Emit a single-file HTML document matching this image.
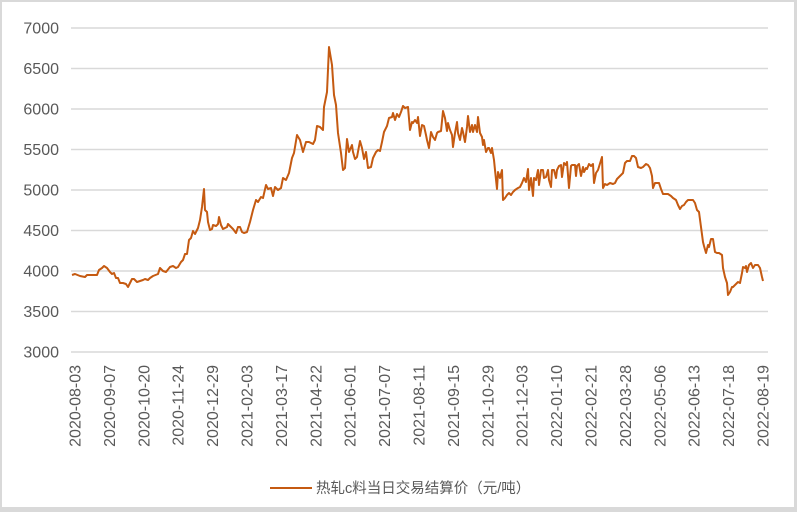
<!DOCTYPE html>
<html><head><meta charset="utf-8"><style>
html,body{margin:0;padding:0;background:#d9d9d9;}
#c{position:absolute;left:0;top:0;width:797px;height:512px;overflow:hidden;}
</style></head><body><div id="c">
<svg width="797" height="512" viewBox="0 0 797 512" xmlns="http://www.w3.org/2000/svg">
<rect x="0" y="0" width="797" height="512" fill="#d9d9d9"/>
<rect x="2" y="2" width="792" height="505" fill="#ffffff"/>
<g stroke="#d9d9d9" stroke-width="1.5">
<line x1="71" x2="768" y1="28" y2="28"/>
<line x1="71" x2="768" y1="68.5" y2="68.5"/>
<line x1="71" x2="768" y1="109" y2="109"/>
<line x1="71" x2="768" y1="149.5" y2="149.5"/>
<line x1="71" x2="768" y1="190" y2="190"/>
<line x1="71" x2="768" y1="230.5" y2="230.5"/>
<line x1="71" x2="768" y1="271" y2="271"/>
<line x1="71" x2="768" y1="311.5" y2="311.5"/>
<line x1="71" x2="768" y1="352" y2="352"/>
</g>
<g font-family="Liberation Sans, sans-serif" font-size="16" fill="#595959" text-anchor="end">
<text x="59" y="33.5">7000</text>
<text x="59" y="74">6500</text>
<text x="59" y="114.5">6000</text>
<text x="59" y="155">5500</text>
<text x="59" y="195.5">5000</text>
<text x="59" y="236">4500</text>
<text x="59" y="276.5">4000</text>
<text x="59" y="317">3500</text>
<text x="59" y="357.5">3000</text>
</g>
<g font-family="Liberation Sans, sans-serif" font-size="16" fill="#595959" text-anchor="end">
<text transform="translate(80.5,365) rotate(-90)">2020-08-03</text>
<text transform="translate(114.9,365) rotate(-90)">2020-09-07</text>
<text transform="translate(149.3,365) rotate(-90)">2020-10-20</text>
<text transform="translate(183.7,365) rotate(-90)">2020-11-24</text>
<text transform="translate(218.1,365) rotate(-90)">2020-12-29</text>
<text transform="translate(252.5,365) rotate(-90)">2021-02-03</text>
<text transform="translate(286.9,365) rotate(-90)">2021-03-17</text>
<text transform="translate(321.3,365) rotate(-90)">2021-04-22</text>
<text transform="translate(355.7,365) rotate(-90)">2021-06-01</text>
<text transform="translate(390.1,365) rotate(-90)">2021-07-07</text>
<text transform="translate(424.5,365) rotate(-90)">2021-08-11</text>
<text transform="translate(458.9,365) rotate(-90)">2021-09-15</text>
<text transform="translate(493.3,365) rotate(-90)">2021-10-29</text>
<text transform="translate(527.7,365) rotate(-90)">2021-12-03</text>
<text transform="translate(562.1,365) rotate(-90)">2022-01-10</text>
<text transform="translate(596.5,365) rotate(-90)">2022-02-21</text>
<text transform="translate(630.9,365) rotate(-90)">2022-03-28</text>
<text transform="translate(665.3,365) rotate(-90)">2022-05-06</text>
<text transform="translate(699.7,365) rotate(-90)">2022-06-13</text>
<text transform="translate(734.1,365) rotate(-90)">2022-07-18</text>
<text transform="translate(768.5,365) rotate(-90)">2022-08-19</text>
</g>
<polyline fill="none" stroke="#c55a11" stroke-width="2" stroke-linejoin="round" points="
72,275 75,274 80,276 85,277 87,275 95,275 97,275 99,270 102,268 104,266 107,268 110,272 112,274 114,273 116,278 118,278 120,283 123,283 126,284 128,287 130,283 132,279 134,279 137,282 140,281 143,280 145,279 148,280 150,278 153,276 158,274 160,268 163,271 166,272 170,267 173,266 176,268 178,267 181,262 183,260 185,254 187,254 189,240 191,238 193,231 195,234 198,228 200,220 202,207 204,189 205,210 207,212 208,222 210,230 212,229 213,225 216,226 218,224 219,217 221,225 223,229 227,227 228,224 231,227 233,229 236,233 238,227 240,227 242,232 244,233
247,232 250,222 253,210 256,200 258,202 261,197 263,198 266,185 268,189 271,188 273,196 275,187 278,190 281,188 283,178 286,180 289,173 292,158 294,153 297,135 300,140 303,152 306,142 309,142 313,144 315,140 317,126 320,127 323,130 324,107 327,92 329,47 332,65 334,95 336,105 338,133 341,153 343,170 345,168 347,139 349,152 352,145 353,152 355,159 357,157 360,141 362,148 364,159 366,152 368,168 371,167 373,158 376,152 378,150 380,151 382,142 384,132 387,126 389,118 392,117 393,113 395,120 397,114 399,117 401,112 403,106 405,108 408,107
410,130 412,122 413,123 415,120 417,123 418,117 420,136 422,125 424,126 426,135 427,140 429,148 431,132 433,137 435,140 437,133 438,132 441,131 443,111 445,118 447,131 448,123 450,130 452,135 453,147 455,133 457,122 458,133 460,140 462,128 463,132 465,142 467,127 468,116 470,132 472,125 473,132 475,125 477,132 478,117 480,133 482,137 483,145 484,140 486,152 488,148 489,148 491,153 492,148 494,160 495,170 497,189 498,172 500,178 502,170 503,200 505,198 507,195 509,193 511,195 513,192 515,190 518,188 520,187 522,183 524,178 526,182 528,169 529,190 531,178 533,196 534,178 536,180 538,170 539,185 541,170 543,170 544,178 546,177 548,170 549,180 551,187 552,170 554,170 556,178 557,170 559,166 561,165 562,177 564,163 566,165 567,162 569,188 571,166 572,165 574,165
575,165 576,176 577,166 579,164 581,176 583,167 584,172 586,168 587,169 589,164 591,166 593,164 594,183 596,173 598,170 602,157 603,188 605,184 607,185 610,183 613,184 615,183 617,179 620,176 623,173 625,163 627,161 630,161 632,156 634,156 636,158 638,167 641,168 643,167 646,164 648,165 650,168 652,176 653,188 655,183 657,183 659,183 661,189 663,194 665,194 668,194 671,196 673,198 676,200 678,205 680,209 682,206 684,205 686,202 688,200 693,200 695,203 697,210 699,212 701,227 703,242 704,246 706,253 708,245 709,247 711,239 713,239 715,252 717,253 719,253 722,255 723,268 725,277 727,283 728,295 730,292 732,287 733,287 735,285 737,283 738,282 740,283 742,273 743,267 745,268 746,266 747,272 749,265 751,263 753,268 755,265 758,265 760,268 762,277 763,281"/>
<line x1="270" y1="488" x2="312" y2="488" stroke="#c55a11" stroke-width="2"/>
<text x="316" y="493" font-family="Liberation Sans, Noto Sans CJK SC, sans-serif" font-size="14.5" fill="#595959">热轧c料当日交易结算价（元/吨）</text>
</svg>
</div></body></html>
